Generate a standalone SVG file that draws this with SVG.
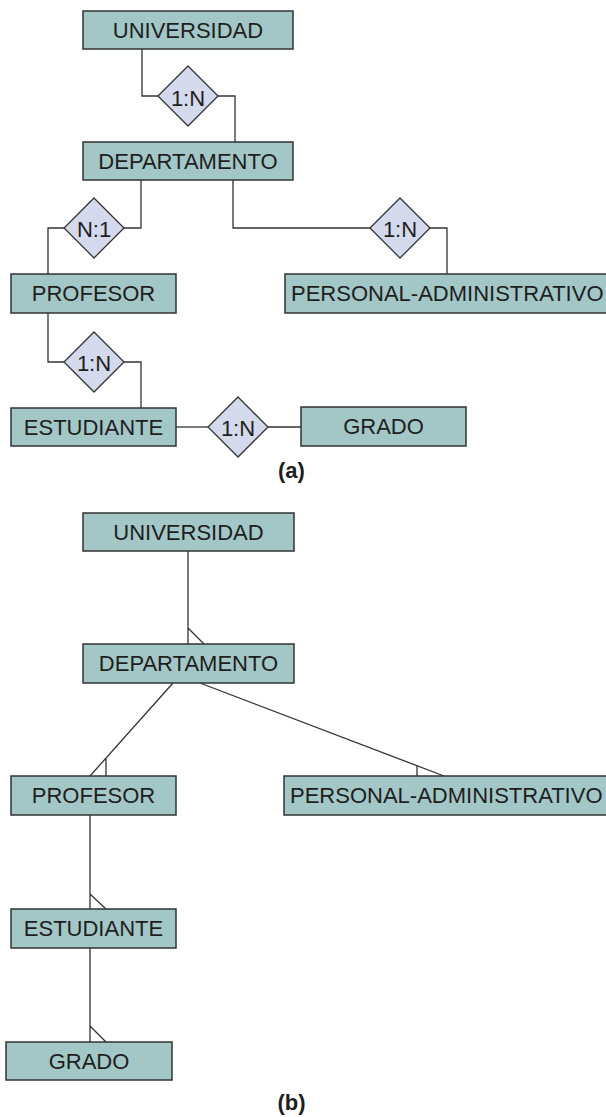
<svg xmlns="http://www.w3.org/2000/svg" width="606" height="1117" viewBox="0 0 606 1117">
<style>
.box{fill:#a3c6c6;stroke:#333;stroke-width:1.5}
.dia{fill:#d4d9ec;stroke:#333;stroke-width:1.3}
.t{font-family:"Liberation Sans",Arial,sans-serif;font-size:22px;fill:#1e1e1e;text-anchor:middle}
.ts{font-family:"Liberation Sans",Arial,sans-serif;font-size:22px;fill:#1e1e1e}
.cap{font-family:"Liberation Sans",Arial,sans-serif;font-size:22px;font-weight:bold;fill:#1e1e1e;text-anchor:middle}
.ln{fill:none;stroke:#333;stroke-width:1.3}
</style>
<rect width="606" height="1117" fill="#fff"/>
<g id="connectors">
<path class="ln" d="M142 49V96H158"/>
<path class="ln" d="M218 96H235V142"/>
<path class="ln" d="M141 180V228H124"/>
<path class="ln" d="M64 228H48V274"/>
<path class="ln" d="M233 180V228H370"/>
<path class="ln" d="M430 228H447V274"/>
<path class="ln" d="M48 313V362H64"/>
<path class="ln" d="M124 362H141V408"/>
<path class="ln" d="M176 427H208"/>
<path class="ln" d="M268 427H301"/>
<path class="ln" d="M188 551V644M188 628L204 644"/>
<path class="ln" d="M173 683L90 776M106 758V776"/>
<path class="ln" d="M200 683L444 776M417 765.5V776"/>
<path class="ln" d="M90 815V909M90 894L106 909"/>
<path class="ln" d="M90 948V1042M90 1026L106 1042"/>
</g>
<g id="a-universidad"><rect class="box" x="83" y="11" width="210" height="38"/><text class="t" x="188" y="38">UNIVERSIDAD</text></g>
<g id="a-rel1"><polygon class="dia" points="188,66 218,96 188,126 158,96"/><text class="t" x="188" y="106">1:N</text></g>
<g id="a-departamento"><rect class="box" x="83" y="142" width="210" height="38"/><text class="t" x="188" y="169">DEPARTAMENTO</text></g>
<g id="a-rel2"><polygon class="dia" points="94,198 124,228 94,258 64,228"/><text class="t" x="94" y="237">N:1</text></g>
<g id="a-rel3"><polygon class="dia" points="400,198 430,228 400,258 370,228"/><text class="t" x="400" y="237">1:N</text></g>
<g id="a-profesor"><rect class="box" x="11" y="274" width="165" height="39"/><text class="t" x="93.5" y="301">PROFESOR</text></g>
<g id="a-personal"><rect class="box" x="285" y="274" width="340" height="39"/><text class="ts" x="291" y="301">PERSONAL-ADMINISTRATIVO</text></g>
<g id="a-rel4"><polygon class="dia" points="94,332 124,362 94,392 64,362"/><text class="t" x="94" y="371">1:N</text></g>
<g id="a-estudiante"><rect class="box" x="11" y="408" width="165" height="38"/><text class="t" x="93.5" y="435">ESTUDIANTE</text></g>
<g id="a-rel5"><polygon class="dia" points="238,397 268,427 238,457 208,427"/><text class="t" x="238" y="436">1:N</text></g>
<g id="a-grado"><rect class="box" x="301" y="407" width="165" height="39"/><text class="t" x="383.5" y="434">GRADO</text></g>
<text class="cap" x="291.5" y="478">(a)</text>
<g id="b-universidad"><rect class="box" x="83" y="513" width="211" height="38"/><text class="t" x="188.5" y="540">UNIVERSIDAD</text></g>
<g id="b-departamento"><rect class="box" x="83" y="644" width="211" height="39"/><text class="t" x="188.5" y="671">DEPARTAMENTO</text></g>
<g id="b-profesor"><rect class="box" x="11" y="776" width="165" height="39"/><text class="t" x="93.5" y="803">PROFESOR</text></g>
<g id="b-personal"><rect class="box" x="284" y="776" width="340" height="39"/><text class="ts" x="290" y="803">PERSONAL-ADMINISTRATIVO</text></g>
<g id="b-estudiante"><rect class="box" x="11" y="909" width="165" height="39"/><text class="t" x="93.5" y="936">ESTUDIANTE</text></g>
<g id="b-grado"><rect class="box" x="6" y="1042" width="166" height="38"/><text class="t" x="89" y="1069">GRADO</text></g>
<text class="cap" x="291.5" y="1110">(b)</text>
</svg>
